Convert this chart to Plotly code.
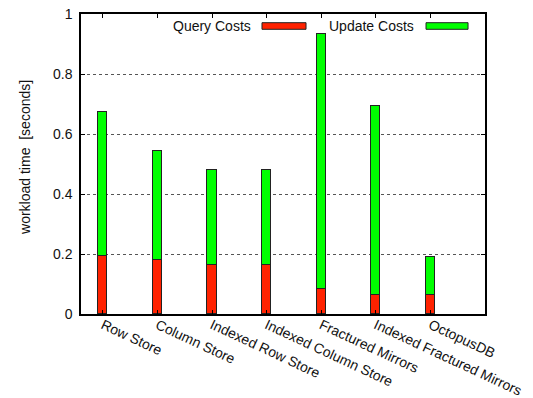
import plotly.graph_objects as go

categories = ["Row Store", "Column Store", "Indexed Row Store", "Indexed Column Store",
              "Fractured Mirrors", "Indexed Fractured Mirrors", "OctopusDB"]
query_costs = [0.193, 0.180, 0.163, 0.163, 0.085, 0.062, 0.062]
total_costs = [0.674, 0.544, 0.481, 0.481, 0.932, 0.694, 0.190]
update_costs = [round(t - q, 3) for t, q in zip(total_costs, query_costs)]
y_ticks = [0, 0.2, 0.4, 0.6, 0.8, 1]
y_tick_labels = ["0", "0.2", "0.4", "0.6", "0.8", "1"]

RED = "#ff2200"
GREEN = "#00ff00"
FONT = "Liberation Sans, Arial, sans-serif"

fig = go.Figure()
fig.add_trace(go.Bar(x=categories, y=query_costs, name="Query Costs", width=0.17,
                     marker=dict(color=RED, line=dict(color="#222222", width=1))))
fig.add_trace(go.Bar(x=categories, y=update_costs, name="Update Costs", width=0.17,
                     marker=dict(color=GREEN, line=dict(color="#222222", width=1))))

# gnuplot-style legend (text left of swatch)
legend_items = [("Query Costs", RED, 0.4257, 0.448, 0.557),
                ("Update Costs", GREEN, 0.829, 0.854, 0.958)]
for text, col, tx, sx0, sx1 in legend_items:
    fig.add_annotation(text=text, xref="paper", yref="paper", x=tx, y=0.96,
                       xanchor="right", yanchor="middle", showarrow=False,
                       font=dict(size=14, color="#111111", family=FONT))
    fig.add_shape(type="rect", xref="paper", yref="paper", x0=sx0, x1=sx1,
                  y0=0.949, y1=0.971, fillcolor=col, line=dict(color="#222222", width=1))

fig.add_annotation(text="workload time  [seconds]", xref="paper", yref="paper",
                   x=-0.139, y=0.523, textangle=-90, showarrow=False,
                   xanchor="center", yanchor="middle",
                   font=dict(size=14, color="#111111", family=FONT))

fig.update_layout(
    width=533, height=398,
    margin=dict(l=81, r=48, t=14, b=84, autoexpand=False),
    barmode="stack", bargap=0,
    showlegend=False,
    plot_bgcolor="white", paper_bgcolor="white",
    font=dict(family=FONT, size=14, color="#111111"),
    xaxis=dict(type="category", range=[-0.4, 7.0], tickangle=25, automargin=False,
               showline=True, linecolor="black", linewidth=1.5, mirror="ticks",
               ticks="inside", ticklen=4, tickcolor="black", showgrid=False,
               ticklabelstandoff=-4,
               tickfont=dict(size=14, family=FONT, color="#111111")),
    yaxis=dict(range=[0, 1], tickvals=y_ticks, ticktext=y_tick_labels, automargin=False,
               showline=True, linecolor="black", linewidth=1.5, mirror="ticks",
               ticks="inside", ticklen=4, tickcolor="black",
               showgrid=True, gridcolor="#555555", griddash="dot", gridwidth=1,
               zeroline=False, ticklabelstandoff=4,
               tickfont=dict(size=14, family=FONT, color="#111111")),
)

fig.write_html("out.html")
